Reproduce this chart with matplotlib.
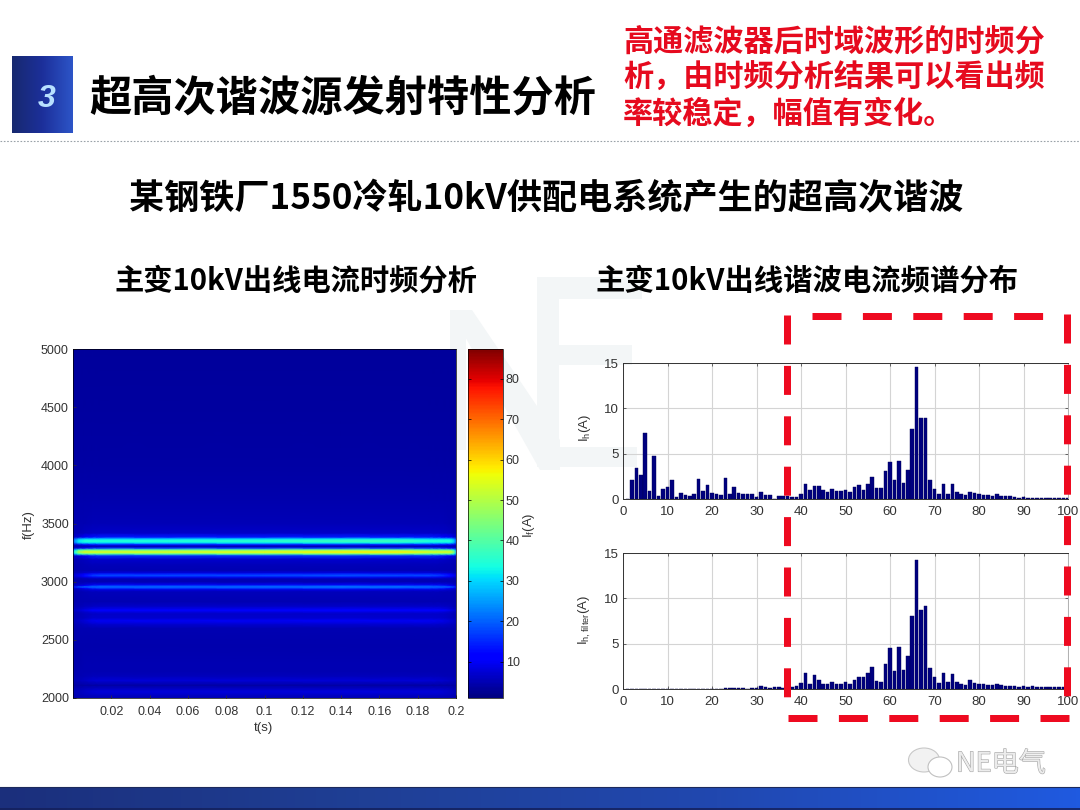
import numpy as np
import matplotlib
matplotlib.use("Agg")
import matplotlib.pyplot as plt
import matplotlib.patheffects as pe
from matplotlib.patches import Ellipse, Polygon, Rectangle

W, H = 1080, 810
plt.rcParams['font.family'] = ['Liberation Sans', 'DejaVu Sans']
plt.rcParams['mathtext.default'] = 'regular'
plt.rcParams['lines.scale_dashes'] = False
CJK = ['Noto Sans CJK SC', 'DejaVu Sans']

# ---------- text ----------
main_title = "超高次谐波源发射特性分析"
note_lines = ["高通滤波器后时域波形的时频分", "析，由时频分析结果可以看出频", "率较稳定，幅值有变化。"]
sub_title = "某钢铁厂1550冷轧10kV供配电系统产生的超高次谐波"
left_title = "主变10kV出线电流时频分析"
right_title = "主变10kV出线谐波电流频谱分布"

# ---------- harmonic spectra (order 1..100) ----------
harmonic = list(range(1, 101))
i_h = [0.0, 2.1, 3.4, 2.6, 7.3, 0.9, 4.7, 0.3, 1.1, 1.3,
       2.1, 0.2, 0.7, 0.4, 0.3, 0.5, 2.2, 0.9, 1.5, 0.7,
       0.5, 0.4, 2.3, 0.6, 1.3, 0.7, 0.5, 0.5, 0.5, 0.2,
       0.8, 0.4, 0.4, 0.05, 0.3, 0.3, 0.3, 0.2, 0.2, 0.5,
       1.6, 1.0, 1.4, 1.4, 1.0, 0.8, 1.1, 0.9, 0.9, 1.0,
       0.8, 1.3, 1.5, 1.0, 1.7, 2.4, 1.2, 1.2, 3.1, 4.1,
       2.1, 4.2, 1.8, 3.2, 7.7, 14.6, 8.9, 8.9, 2.1, 1.1,
       0.5, 1.7, 0.5, 1.6, 0.8, 0.5, 0.4, 0.8, 0.7, 0.5,
       0.4, 0.4, 0.3, 0.5, 0.3, 0.3, 0.3, 0.2, 0.15, 0.25,
       0.15, 0.15, 0.15, 0.15, 0.15, 0.1, 0.1, 0.15, 0.1, 0.15]
i_h_filter = [0.05, 0.05, 0.05, 0.05, 0.05, 0.05, 0.05, 0.05, 0.05, 0.05,
              0.05, 0.05, 0.05, 0.05, 0.05, 0.05, 0.05, 0.05, 0.05, 0.05,
              0.05, 0.05, 0.1, 0.1, 0.1, 0.1, 0.1, 0.05, 0.1, 0.15,
              0.3, 0.2, 0.1, 0.25, 0.2, 0.15, 0.1, 0.25, 0.3, 0.7,
              1.8, 0.6, 1.5, 1.0, 0.6, 0.5, 0.8, 0.6, 0.6, 0.8,
              0.6, 1.0, 1.3, 1.3, 1.8, 2.4, 0.9, 0.8, 2.8, 4.5,
              2.0, 4.6, 2.1, 3.6, 8.0, 14.2, 8.7, 9.2, 2.3, 1.3,
              0.7, 1.8, 0.8, 1.6, 0.8, 0.6, 0.4, 1.0, 0.7, 0.6,
              0.6, 0.4, 0.4, 0.6, 0.4, 0.35, 0.35, 0.3, 0.25, 0.35,
              0.2, 0.35, 0.25, 0.25, 0.2, 0.2, 0.2, 0.2, 0.2, 0.2]
spec_xticks = [0, 10, 20, 30, 40, 50, 60, 70, 80, 90, 100]
spec_yticks = [0, 5, 10, 15]

# ---------- time-frequency map ----------
freq_hz = [2000, 2030, 2054, 2080, 2110, 2150, 2190, 2230, 2300, 2450, 2600, 2640, 2665, 2690,
           2725, 2745, 2757, 2769, 2790, 2830, 2915, 2935, 2947, 2957, 2967, 2979, 3000, 3020,
           3035, 3047, 3057, 3067, 3079, 3100, 3150, 3195, 3225, 3240, 3250, 3258, 3266, 3276,
           3291, 3305, 3320, 3335, 3345, 3352, 3359, 3369, 3385, 3420,
           3500, 3700, 4000, 4500, 5000]
level_a = [5.0, 6.5, 8.0, 6.5, 4.0, 7.5, 5.5, 5.0, 4.8, 4.6, 5.0, 7.5, 10.0, 7.0,
           6.5, 9.0, 12.0, 9.0, 6.5, 5.0, 5.5, 9.0, 17.0, 21.0, 17.0, 9.0, 5.0, 5.0,
           8.0, 15.0, 18.0, 15.0, 8.0, 5.0, 5.5, 7.0, 16.0, 40.0, 50.0, 54.0, 50.0, 40.0,
           16.0, 5.0, 14.0, 30.0, 34.0, 35.0, 34.0, 30.0, 14.0, 6.5,
           5.2, 4.4, 3.9, 3.6, 3.3]
time_s = [0.0, 0.001, 0.003, 0.006, 0.01, 0.014, 0.05, 0.1, 0.14, 0.17, 0.186, 0.19, 0.194, 0.197, 0.199, 0.2]
gain_strong = [0.4, 0.65, 0.9, 1.0, 1.0, 1.0, 1.0, 1.03, 1.08, 1.08, 1.0, 1.0, 1.0, 1.0, 0.8, 0.45]
gain_weak = [0.2, 0.25, 0.35, 0.6, 0.9, 1.0, 1.0, 1.0, 1.05, 1.0, 1.0, 0.95, 0.8, 0.6, 0.4, 0.25]
floor_a = 4.6
t_ticks = [0.02, 0.04, 0.06, 0.08, 0.1, 0.12, 0.14, 0.16, 0.18, 0.2]
t_labels = ['0.02', '0.04', '0.06', '0.08', '0.1', '0.12', '0.14', '0.16', '0.18', '0.2']
f_ticks = [2000, 2500, 3000, 3500, 4000, 4500, 5000]
cbar_ticks = [10, 20, 30, 40, 50, 60, 70, 80]
cbar_range = (1.0, 87.4)

level = np.array(level_a)
gs, gw = np.array(gain_strong), np.array(gain_weak)
gains = np.where(level[:, None] >= 20, gs[None, :], gw[None, :])
Z = np.where(level[:, None] > floor_a, floor_a + (level[:, None] - floor_a) * gains, level[:, None])

fig = plt.figure(figsize=(W / 100, H / 100), dpi=100, facecolor='white')


def box(x0, y0, x1, y1):
    return [x0 / W, 1 - y1 / H, (x1 - x0) / W, (y1 - y0) / H]


# ---------- background decorations ----------
bg = fig.add_axes([0, 0, 1, 1], zorder=0)
bg.set_xlim(0, W); bg.set_ylim(H, 0); bg.axis('off')
# faint watermark logo drawn as shapes
WM = '#f3f6f7'
bg.add_patch(Polygon([(450, 310), (472, 310), (560, 440), (560, 470), (540, 470)], fc=WM, ec='none'))
bg.add_patch(Rectangle((450, 310), 16, 140, fc=WM, ec='none'))
bg.add_patch(Rectangle((537, 277), 22, 190, fc=WM, ec='none'))
bg.add_patch(Rectangle((537, 277), 105, 22, fc=WM, ec='none'))
bg.add_patch(Rectangle((537, 345), 95, 20, fc=WM, ec='none'))
bg.add_patch(Rectangle((537, 447), 100, 20, fc=WM, ec='none'))

grad = np.linspace(0, 1, 256)[None, :]
head_cm = matplotlib.colors.LinearSegmentedColormap.from_list('h', ['#17296f', '#1c2f9a', '#2d55c8'])
foot_cm = matplotlib.colors.LinearSegmentedColormap.from_list('f', ['#1b2f7c', '#1f3f95', '#2148b0', '#1f5ae0'])
bg.imshow(grad, cmap=head_cm, extent=(12, 73, 133, 56), aspect='auto', zorder=1)
bg.imshow(grad, cmap=foot_cm, extent=(0, W, 810, 787), aspect='auto', zorder=1)
bg.plot([0, W], [787, 787], color='#1c2a5c', lw=0.8, zorder=2)
bg.plot([0, W], [809, 809], color='#14205c', lw=1.2, zorder=2)
bg.set_xlim(0, W); bg.set_ylim(H, 0)
bg.plot([0, W], [141, 141], color='#9aa2a8', lw=0.8, ls=(0, (1.2, 1.2)))
bg.text(47, 99, "3", fontsize=23, fontweight='bold', style='italic', color='#b8e0ff', ha='center', va='center',
        family=['Liberation Sans'])
bg.text(342.5, 98, main_title, fontsize=30.4, fontweight='bold', color='black', ha='center', va='center', family=CJK)
for ln, yy in zip(note_lines, [42, 78, 114]):
    bg.text(623, yy, ln, fontsize=21.7, fontweight='bold', color='#e60a1e', ha='left', va='center', family=CJK)
bg.text(546.5, 199, sub_title, fontsize=25.3, fontweight='bold', color='black', ha='center', va='center', family=CJK)
bg.text(295.5, 281, left_title, fontsize=21.1, fontweight='bold', color='black', ha='center', va='center', family=CJK)
bg.text(807, 281, right_title, fontsize=21.15, fontweight='bold', color='black', ha='center', va='center', family=CJK)
# WeChat-style mark and account name
bg.add_patch(Ellipse((924, 760), 31, 24, fc='#f2f2f2', ec='#c8c8c8', lw=0.8))
bg.add_patch(Ellipse((940, 767), 24, 20, fc='#ffffff', ec='#c0c0c0', lw=0.8))
bg.text(1001, 764, "NE电气", fontsize=19.5, color='#ececec', ha='center', va='center', family=CJK,
        path_effects=[pe.withStroke(linewidth=0.8, foreground='#a4a4a4')])

# ---------- time-frequency panel ----------
ax = fig.add_axes(box(73, 349, 456, 698), zorder=2)
mesh = ax.pcolormesh(time_s, freq_hz, Z, cmap='jet', vmin=cbar_range[0], vmax=cbar_range[1], shading='gouraud')
ax.set_xlim(0, 0.2); ax.set_ylim(2000, 5000)
ax.set_xticks(t_ticks); ax.set_xticklabels(t_labels)
ax.set_yticks(f_ticks)
ax.tick_params(direction='in', length=2.5, width=0.5, labelsize=9, colors='#333333')
ax.tick_params(axis='x', pad=6)
ax.tick_params(axis='y', pad=3)
ax.set_xlabel("t(s)", fontsize=9.5, color='#333333')
ax.xaxis.set_label_coords((263 - 73) / 383, -(722 - 698) / 349)
ax.set_ylabel("f(Hz)", fontsize=9.5, color='#333333')
ax.yaxis.set_label_coords((35 - 73) / 383, (698 - 525) / 349)
for s in ax.spines.values():
    s.set_linewidth(0.5)

cax = fig.add_axes(box(468, 349, 503, 698), zorder=2)
cb = fig.colorbar(mesh, cax=cax, ticks=cbar_ticks)
cb.ax.tick_params(direction='in', length=2.5, width=0.5, labelsize=9, labelcolor='#333333', pad=2, left=True, right=True)
cb.outline.set_linewidth(0.5)
cb.set_label("$I_{f}(A)$", fontsize=9.5, color='#333333')
cax.yaxis.set_label_coords((521 - 468) / 35, (698 - 525) / 349)

# ---------- spectra ----------
for rect, vals, lab, laby in [((623, 363, 1068, 499), i_h, "$I_{h}(A)$", 428),
                              ((623, 553, 1068, 689), i_h_filter, "$I_{h,filter}(A)$", 620)]:
    a = fig.add_axes(box(*rect), zorder=2, facecolor='none')
    a.bar(harmonic, vals, width=0.8, color='#00007f', edgecolor='#000055', linewidth=0.3, zorder=3)
    a.set_xlim(0, 100); a.set_ylim(0, 15)
    a.set_xticks(spec_xticks); a.set_yticks(spec_yticks)
    a.grid(True, color='#d4d4d4', lw=0.8, zorder=0)
    a.tick_params(direction='in', length=2, width=0.5, labelsize=9.5, colors='#333333', top=True, right=True)
    a.tick_params(axis='x', pad=5)
    a.tick_params(axis='y', pad=3)
    a.set_ylabel(lab, fontsize=9.5, color='#333333')
    a.yaxis.set_label_coords((593 - 623) / 445, (rect[3] - laby) / 136)
    for s in a.spines.values():
        s.set_linewidth(0.7)
        s.set_color('#333333')
    a.spines['right'].set_color('#b0b0b0')

# ---------- red dashed highlight ----------
fg = fig.add_axes([0, 0, 1, 1], zorder=5, facecolor='none')
fg.set_xlim(0, W); fg.set_ylim(H, 0); fg.axis('off')
RED = '#ee0a20'
dash = (0, (29 * 0.72, 21.4 * 0.72))
lw = 7 * 0.72
for xs, ys in [([812, 1045], [316, 316]), ([788, 1069], [718, 718]),
               ([787, 787], [315, 700]), ([1067, 1067], [314, 700])]:
    fg.plot(xs, ys, color=RED, lw=lw, ls=dash, dash_capstyle='butt')

fig.savefig("out.png", dpi=100)
